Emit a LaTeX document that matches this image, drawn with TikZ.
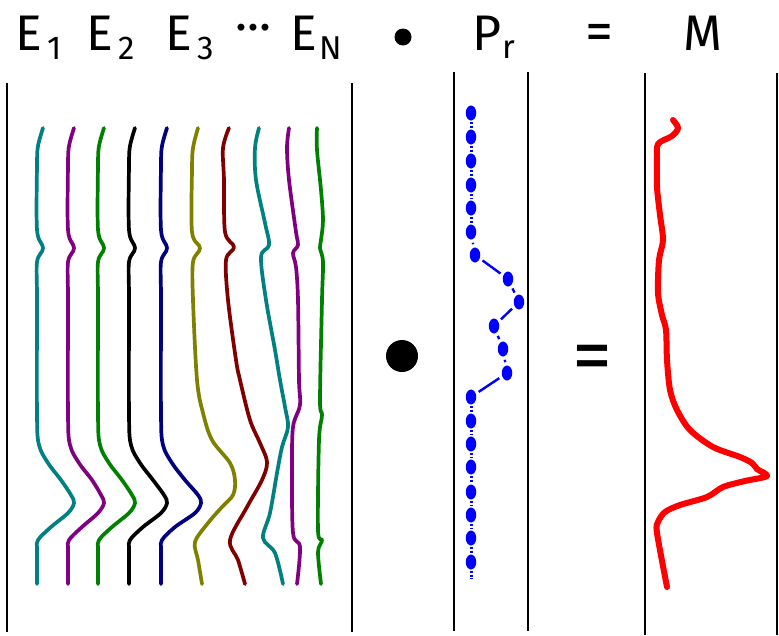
\documentclass[tikz,border=0pt]{standalone}
\usepackage{fontspec}
\setmainfont{Fira Sans}
\usetikzlibrary{shapes.geometric}
\definecolor{cteal}{RGB}{0,128,128}
\definecolor{cpurple}{RGB}{128,0,128}
\definecolor{cgreen}{RGB}{0,128,0}
\definecolor{cnavy}{RGB}{0,0,128}
\definecolor{colive}{RGB}{128,128,0}
\definecolor{cmaroon}{RGB}{128,0,0}
\definecolor{cblue}{RGB}{0,0,255}
\definecolor{cred}{RGB}{255,0,0}
\tikzset{
  ecurve/.style={line width=3.7pt, line cap=round, line join=round},
  divider/.style={black, line width=1.4pt},
  thickdiv/.style={black, line width=2.4pt},
  lab/.style={anchor=base west, inner sep=0pt, font=\fontsize{50}{50}\selectfont},
  sublab/.style={anchor=base west, inner sep=0pt, font=\fontsize{33}{33}\selectfont},
  pdot/.style={ellipse, fill=cblue, draw=none, minimum width=10.5pt, minimum height=15pt, inner sep=0pt, outer sep=1.5pt},
  pchain/.style={cblue, line width=3pt, dash pattern=on 2pt off 1.5pt},
  pjump/.style={cblue, line width=2.4pt, shorten <=2pt, shorten >=2pt},
  mcurve/.style={cred, line width=6pt, line cap=round, line join=round}
}
\begin{document}
\begin{tikzpicture}[x=1pt,y=-1pt]
\useasboundingbox (0,0) rectangle (779,635);
% dividers
\draw[divider] (7,83) -- (7,632);
\draw[divider] (352,83) -- (352,632);
\draw[divider] (454,72) -- (454,631);
\draw[divider] (528,72) -- (528,631);
\draw[thickdiv] (645,73) -- (645,635);
\draw[thickdiv] (777,73) -- (777,635);
% labels
\node[lab] (e1) at (15,50) {E};
\node[sublab] (e1s) at (47,59) {1};
\node[lab] (e2) at (86,50) {E};
\node[sublab] (e2s) at (118,59) {2};
\node[lab] (e3) at (165,50) {E};
\node[sublab] (e3s) at (197,59) {3};
\node[anchor=center, inner sep=0pt, font=\fontsize{50}{50}\selectfont] (edots) at (253,28) {...};
\node[lab] (en) at (290,50) {E};
\node[sublab] (ens) at (319,59) {N};
\node[circle, fill=black, minimum size=17pt, inner sep=0pt] (tbul) at (403,37) {};
\node[lab] (pr) at (472,50) {P};
\node[sublab] (prs) at (502,58) {r};
\node[anchor=center, inner sep=0pt, font=\fontsize{56}{56}\selectfont] (teq) at (599,37.5) {=};
\node[lab] (m) at (683,50) {M};
% middle operators
\node[circle, fill=black, minimum size=32pt, inner sep=0pt] (bbul) at (402,356) {};
\node[anchor=center, inner sep=0pt, font=\fontsize{80}{80}\selectfont] (beq) at (592,364) {=};
% ensemble curves 1-5
\foreach \bx/\cc/\pk in {37/cteal/37, 68/cpurple/36, 98/cgreen/37, 129/black/38, 161/cnavy/40}{
  \draw[ecurve,\cc] plot[smooth,tension=0.55] coordinates {
    ({\bx+6},128) ({\bx+1},146) (\bx,165) (\bx,230) ({\bx+6},248) (\bx,262) (\bx,300)
    (\bx,415) ({\bx+2},445) ({\bx+11},463) ({\bx+24},480) ({\bx+\pk-3},495) ({\bx+\pk},503)
    ({\bx+\pk-6},513) ({\bx+14},527) ({\bx+1},540) (\bx,550) (\bx,584)};
}
% curve 6 olive
\draw[ecurve,colive] plot[smooth,tension=0.55] coordinates {
  (198,128) (193,148) (192,170) (192,232) (200,248) (193,262) (193,300) (197,380)
  (203,413) (212,440) (230,463) (235,480) (233,495) (222,507) (208,523) (195,542) (198,560) (202,584)};
% curve 7 maroon
\draw[ecurve,cmaroon] plot[smooth,tension=0.55] coordinates {
  (229,128) (223,148) (224,180) (225,232) (234,247) (226,260) (228,300) (236,360) (240,380)
  (250,420) (260,443) (267,462) (262,480) (247,507) (230,540) (238,560) (245,584)};
% curve 8 teal
\draw[ecurve,cteal] plot[smooth,tension=0.55] coordinates {
  (259,128) (255,148) (256,180) (265,223) (269,245) (261,257) (266,300) (275,350) (280,380)
  (285,407) (288,427) (282,447) (277,473) (270,513) (263,538) (275,553) (283,584)};
% curve 9 purple
\draw[ecurve,cpurple] plot[smooth,tension=0.55] coordinates {
  (289,128) (287,148) (289,180) (296,232) (298,245) (293,253) (296,267) (298,300) (299,380)
  (300,405) (293,427) (292,470) (293,533) (300,547) (297,584)};
% curve 10 green
\draw[ecurve,cgreen] plot[smooth,tension=0.55] coordinates {
  (317,128) (317,150) (321,190) (323,220) (321,240) (320,248) (323,262) (322,300) (320,400)
  (322,415) (319,440) (318,530) (322,540) (318,552) (321,584)};
% P_r dots
\node[pdot] (p1) at (471,113) {};
\node[pdot] (p2) at (471,137) {};
\node[pdot] (p3) at (471,161) {};
\node[pdot] (p4) at (471,185) {};
\node[pdot] (p5) at (471,208) {};
\node[pdot] (p6) at (471,232) {};
\node[pdot] (p7) at (475,255) {};
\node[pdot] (p8) at (508,279) {};
\node[pdot] (p9) at (519,302) {};
\node[pdot] (p10) at (494,326) {};
\node[pdot] (p11) at (503,349) {};
\node[pdot] (p12) at (507,373) {};
\node[pdot] (p13) at (471,397) {};
\node[pdot] (p14) at (471,421) {};
\node[pdot] (p15) at (471,444) {};
\node[pdot] (p16) at (471,467) {};
\node[pdot] (p17) at (471,492) {};
\node[pdot] (p18) at (471,515) {};
\node[pdot] (p19) at (471,538) {};
\node[pdot] (p20) at (471,562) {};
\coordinate (pend) at (471,579);
\foreach \i/\j in {1/2,2/3,3/4,4/5,5/6,13/14,14/15,15/16,16/17,17/18,18/19,19/20}{
  \draw[pchain] (p\i) -- (p\j);
}
\draw[pchain] (p20) -- (pend);
\foreach \i/\j in {6/7,7/8,8/9,9/10,10/11,11/12,12/13}{
  \draw[pjump] (p\i) -- (p\j);
}
% M curve
\draw[mcurve] plot[smooth,tension=0.5] coordinates {
  (673,120) (678,128) (672,136) (658,144) (657,160) (657,187) (660,215) (663,240) (659,260)
  (658,293) (662,315) (666,330) (667,360) (670,390) (677,410) (690,430) (713,447) (740,457)
  (752,463) (757,469) (767,476) (745,481) (723,487) (707,497) (680,505) (665,512) (658,522)
  (657,533) (667,587)};
\end{tikzpicture}
\end{document}
